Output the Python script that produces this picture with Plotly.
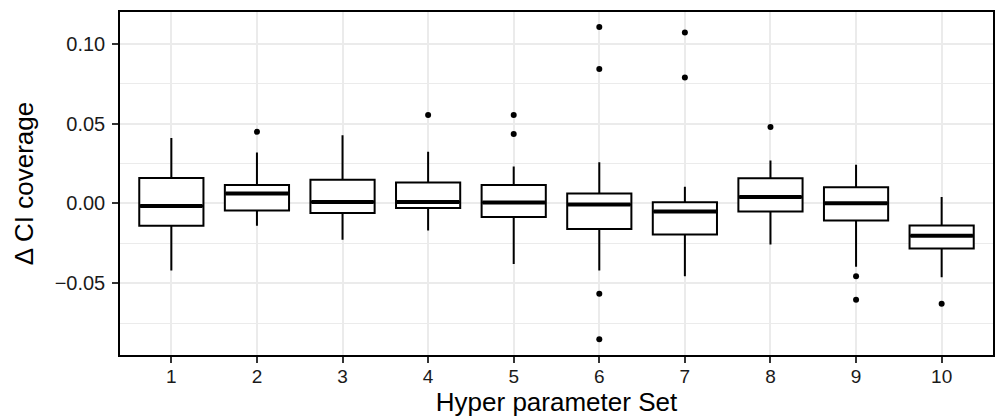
import plotly.graph_objects as go

sets = [1, 2, 3, 4, 5, 6, 7, 8, 9, 10]
q1 = [-0.0140, -0.0044, -0.0060, -0.0029, -0.0085, -0.0160, -0.0194, -0.0050, -0.0106, -0.0281]
median = [-0.0015, 0.0063, 0.0010, 0.0010, 0.0006, -0.0006, -0.0050, 0.0040, 0.0002, -0.0202]
q3 = [0.0160, 0.0115, 0.0148, 0.0131, 0.0115, 0.0063, 0.0008, 0.0158, 0.0102, -0.0138]
lower = [-0.0420, -0.0140, -0.0227, -0.0169, -0.0379, -0.0420, -0.0456, -0.0256, -0.0396, -0.0462]
upper = [0.0410, 0.0319, 0.0427, 0.0323, 0.0231, 0.0258, 0.0104, 0.0269, 0.0242, 0.0040]

outlier_set = [2, 4, 5, 5, 6, 6, 6, 6, 7, 7, 8, 9, 9, 10]
outlier_val = [0.0448, 0.0554, 0.0554, 0.0435, 0.1104, 0.0842, -0.0565, -0.0850,
               0.1069, 0.0788, 0.0479, -0.0456, -0.0602, -0.0627]

box_w = 0.75
font_family = "Liberation Sans, Arial, Helvetica, sans-serif"

fig = go.Figure()
fig.add_trace(go.Box(
    x=sets, q1=q1, median=median, q3=q3, lowerfence=lower, upperfence=upper,
    boxpoints=False, whiskerwidth=0, width=box_w,
    fillcolor="white", line=dict(color="black", width=2),
    showlegend=False, hoverinfo="skip",
))

# thick median bars (ggplot style)
mx, my = [], []
for s, m in zip(sets, median):
    mx += [s - box_w / 2 + 0.01, s + box_w / 2 - 0.01, None]
    my += [m, m, None]
fig.add_trace(go.Scatter(x=mx, y=my, mode="lines",
                         line=dict(color="black", width=4),
                         showlegend=False, hoverinfo="skip"))

fig.add_trace(go.Scatter(x=outlier_set, y=outlier_val, mode="markers",
                         marker=dict(color="black", size=6),
                         showlegend=False))

fig.update_layout(
    width=997, height=417,
    margin=dict(l=120, r=2, t=12, b=62),
    paper_bgcolor="white", plot_bgcolor="white",
    font=dict(family=font_family, color="black"),
    xaxis=dict(
        range=[0.4, 10.6], tickmode="array", tickvals=sets,
        ticktext=[str(s) for s in sets],
        showgrid=True, gridcolor="#EBEBEB", gridwidth=1.5,
        showline=True, linecolor="black", linewidth=1.5, mirror=True,
        ticks="outside", ticklen=6, tickcolor="#333333", tickwidth=1.5,
        ticklabelstandoff=-3,
        tickfont=dict(size=19, color="#1a1a1a"),
        title=dict(text="Hyper parameter Set", font=dict(size=26), standoff=8),
        zeroline=False,
    ),
    yaxis=dict(
        range=[-0.0948, 0.1198], tickmode="array",
        tickvals=[-0.05, 0.0, 0.05, 0.10],
        ticktext=["\u22120.05", "0.00", "0.05", "0.10"],
        showgrid=True, gridcolor="#EBEBEB", gridwidth=1.5,
        minor=dict(tickvals=[-0.075, -0.025, 0.025, 0.075], showgrid=True,
                   gridcolor="#EBEBEB", gridwidth=0.75, ticks=""),
        showline=True, linecolor="black", linewidth=1.5, mirror=True,
        ticks="outside", ticklen=6, tickcolor="#333333", tickwidth=1.5,
        ticklabelstandoff=3,
        tickfont=dict(size=20, color="#1a1a1a"),
        title=dict(text="\u0394 CI coverage", font=dict(size=26), standoff=14),
        zeroline=False,
    ),
)

fig.write_html("out.html", config={"displayModeBar": False},
               post_script="document.body.style.margin='0';document.body.style.overflow='hidden';")
